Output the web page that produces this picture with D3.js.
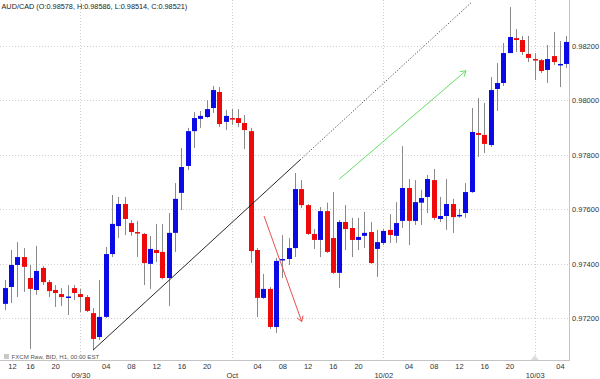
<!DOCTYPE html>
<html><head><meta charset="utf-8">
<script src="https://cdn.jsdelivr.net/npm/d3@7"></script>
<style>
body{margin:0;background:#fff}
svg{display:block}
text{font-family:"Liberation Sans",Arial,Helvetica,sans-serif}
</style>
</head><body>
<svg id="c" width="600" height="379"></svg>
<script>
// ---- DATA (hourly AUD/CAD candles) ----
const opens  = [0.97252,0.97314,0.97395,0.97424,0.97347,0.97303,0.97384,0.97332,0.97303,0.97288,
                0.97277,0.97310,0.97288,0.97277,0.97218,0.97130,0.97204,0.97435,0.97538,0.97619,
                0.97549,0.97516,0.97509,0.97399,0.97450,0.97443,0.97347,0.97513,0.97660,0.97759,
                0.97887,0.97932,0.97939,0.97972,0.98031,0.97921,0.97935,0.97935,0.97917,0.97887,
                0.97450,0.97274,0.97307,0.97167,0.97413,0.97417,0.97457,0.97674,0.97615,0.97509,
                0.97487,0.97593,0.97494,0.97366,0.97553,0.97531,0.97487,0.97502,0.97516,0.97454,
                0.97476,0.97524,0.97502,0.97557,0.97678,0.97557,0.97624,0.97645,0.97707,0.97564,
                0.97575,0.97619,0.97575,0.97586,0.97663,0.97880,0.97873,0.97836,0.98042,0.98064,
                0.98174,0.98229,0.98222,0.98171,0.98152,0.98148,0.98112,0.98163,0.98130,0.98134];
const highs  = [0.97340,0.97450,0.97479,0.97457,0.97395,0.97465,0.97391,0.97340,0.97321,0.97310,
                0.97321,0.97321,0.97307,0.97285,0.97237,0.97340,0.97461,0.97652,0.97645,0.97645,
                0.97560,0.97557,0.97513,0.97502,0.97546,0.97546,0.97586,0.97696,0.97825,0.97899,
                0.97957,0.97961,0.98001,0.98053,0.98049,0.97965,0.97968,0.97968,0.97946,0.97899,
                0.97457,0.97362,0.97314,0.97421,0.97505,0.97494,0.97733,0.97707,0.97619,0.97527,
                0.97608,0.97624,0.97663,0.97560,0.97615,0.97568,0.97568,0.97590,0.97553,0.97524,
                0.97527,0.97582,0.97626,0.97832,0.97711,0.97707,0.97671,0.97726,0.97748,0.97645,
                0.97711,0.97638,0.97601,0.97696,0.97972,0.98009,0.97990,0.98086,0.98137,0.98211,
                0.98343,0.98262,0.98237,0.98237,0.98174,0.98152,0.98204,0.98251,0.98218,0.98237];
const lows   = [0.97229,0.97255,0.97277,0.97296,0.97086,0.97285,0.97321,0.97277,0.97241,0.97244,
                0.97211,0.97266,0.97222,0.97222,0.97082,0.97119,0.97200,0.97424,0.97494,0.97505,
                0.97502,0.97424,0.97321,0.97307,0.97406,0.97343,0.97244,0.97443,0.97597,0.97744,
                0.97825,0.97899,0.97935,0.97954,0.97902,0.97891,0.97910,0.97902,0.97821,0.97402,
                0.97204,0.97270,0.97160,0.97145,0.97347,0.97395,0.97424,0.97604,0.97505,0.97454,
                0.97424,0.97439,0.97362,0.97310,0.97450,0.97424,0.97450,0.97457,0.97399,0.97351,
                0.97468,0.97476,0.97476,0.97531,0.97468,0.97542,0.97542,0.97586,0.97560,0.97553,
                0.97524,0.97513,0.97568,0.97568,0.97660,0.97792,0.97807,0.97829,0.97961,0.98053,
                0.98174,0.98178,0.98167,0.98141,0.98075,0.98101,0.98064,0.98130,0.98049,0.98119];
const closes = [0.97310,0.97395,0.97424,0.97388,0.97307,0.97373,0.97332,0.97299,0.97292,0.97277,
                0.97279,0.97292,0.97277,0.97226,0.97123,0.97204,0.97435,0.97546,0.97619,0.97564,
                0.97516,0.97513,0.97402,0.97454,0.97439,0.97347,0.97513,0.97638,0.97755,0.97887,
                0.97935,0.97943,0.97968,0.98038,0.97913,0.97943,0.97932,0.97917,0.97891,0.97446,
                0.97274,0.97307,0.97167,0.97410,0.97417,0.97457,0.97674,0.97615,0.97509,0.97487,
                0.97593,0.97443,0.97366,0.97553,0.97527,0.97487,0.97498,0.97513,0.97402,0.97479,
                0.97520,0.97505,0.97549,0.97678,0.97557,0.97626,0.97641,0.97711,0.97568,0.97575,
                0.97619,0.97571,0.97579,0.97663,0.97884,0.97873,0.97840,0.98038,0.98064,0.98174,
                0.98233,0.98222,0.98178,0.98156,0.98148,0.98108,0.98152,0.98141,0.98134,0.98215];

const yTicks = [0.972, 0.974, 0.976, 0.978, 0.980, 0.982];
const hourTickIdx    = [0,4,8,16,20,24,28,32,40,44,48,52,56,64,68,72,76,80,88];
const hourTickLabels = ["12","16","20","04","08","12","16","20","04","08","12","16","20","04","08","12","16","20","04"];
const dateTickIdx    = [12,36,60,84];
const dateTickLabels = ["09/30","Oct","10/02","10/03"];

const titleText  = "AUD/CAD (O:0.98578, H:0.98586, L:0.98514, C:0.98521)";
const sourceText = "FXCM Raw, BID, H1, 00:00 EST";

// annotations: [index, price]
const trendSolid  = [[14, 0.97082], [46.8, 0.97781]];
const trendDotted = [[46.8, 0.97781], [74, 0.98361]];
const redArrow    = [[41.1, 0.97575], [47.07, 0.97187]];
const greenArrow  = [[53.0, 0.97710], [73.1, 0.98109]];

// ---- CHART ----
const W = 600, H = 379;
const plotR = 569, plotB = 360;
const svg = d3.select("#c");

const x = d3.scaleLinear().domain([0, opens.length - 1]).range([4.7, 566.3]);
const y = d3.scaleLinear().domain([0.972, 0.982]).range([318, 46]);
const step = x(1) - x(0);

// grid
const grid = svg.append("g");
grid.selectAll("line.h").data(yTicks).enter().append("line")
  .attr("x1", 0).attr("x2", plotR)
  .attr("y1", d => Math.round(y(d)) + 0.5).attr("y2", d => Math.round(y(d)) + 0.5)
  .attr("stroke", "#cfcfcf").attr("stroke-dasharray", "1,2");
grid.selectAll("line.v").data(dateTickIdx).enter().append("line")
  .attr("y1", 0).attr("y2", plotB)
  .attr("x1", d => Math.round(x(d)) + 0.5).attr("x2", d => Math.round(x(d)) + 0.5)
  .attr("stroke", "#cfcfcf").attr("stroke-dasharray", "1,2");

// frame
svg.append("line").attr("x1", plotR + 0.5).attr("x2", plotR + 0.5).attr("y1", 0).attr("y2", plotB)
  .attr("stroke", "#c4c4c4");
svg.append("line").attr("x1", 0).attr("x2", plotR + 1).attr("y1", plotB + 0.5).attr("y2", plotB + 0.5)
  .attr("stroke", "#c4c4c4");

// candles
const data = opens.map((o, i) => ({i, o, h: highs[i], l: lows[i], c: closes[i]}));
const cg = svg.append("g");
cg.selectAll("line.wick").data(data).enter().append("line")
  .attr("x1", d => Math.round(x(d.i)) + 0.5).attr("x2", d => Math.round(x(d.i)) + 0.5)
  .attr("y1", d => y(d.h)).attr("y2", d => y(d.l))
  .attr("stroke", "#8a8a8a").attr("stroke-width", 1);
const bw = 5;
cg.selectAll("rect").data(data).enter().append("rect")
  .attr("x", d => Math.round(x(d.i)) + 0.5 - bw / 2)
  .attr("width", bw)
  .attr("y", d => y(Math.max(d.o, d.c)))
  .attr("height", d => Math.max(1.5, Math.abs(y(d.o) - y(d.c))))
  .attr("fill", d => d.c >= d.o ? "#0a0ae6" : "#ee0a0a");

// trend line
const ln = d3.line().x(d => x(d[0])).y(d => y(d[1]));
svg.append("path").attr("d", ln(trendSolid)).attr("fill", "none")
  .attr("stroke", "#111").attr("stroke-width", 0.9);
svg.append("path").attr("d", ln(trendDotted)).attr("fill", "none")
  .attr("stroke", "#333").attr("stroke-width", 0.9).attr("stroke-dasharray", "1.2,1.8");

function arrow(pts, color, head) {
  svg.append("path").attr("d", ln(pts)).attr("fill", "none")
    .attr("stroke", color).attr("stroke-width", 1);
  const x1 = x(pts[0][0]), y1 = y(pts[0][1]), x2 = x(pts[1][0]), y2 = y(pts[1][1]);
  const a = Math.atan2(y2 - y1, x2 - x1);
  const p = [a + Math.PI * 0.82, a - Math.PI * 0.82].map(t => [x2 + head * Math.cos(t), y2 + head * Math.sin(t)]);
  svg.append("path").attr("d", `M${p[0][0]},${p[0][1]}L${x2},${y2}L${p[1][0]},${p[1][1]}`)
    .attr("fill", "none").attr("stroke", color).attr("stroke-width", 1);
}
arrow(redArrow, "#e65050", 6);
arrow(greenArrow, "#66dd66", 6);

// y axis (right)
const ya = svg.append("g").attr("transform", `translate(${plotR},0)`)
  .call(d3.axisRight(y).tickValues(yTicks).tickSize(0).tickPadding(3).tickFormat(d3.format(".5f")));
ya.select(".domain").remove();
ya.selectAll("text").attr("font-size", 7.5).attr("fill", "#333")
  .attr("font-family", "'Liberation Sans',Arial,sans-serif");

// x axis hour labels
const xa = svg.append("g").attr("transform", `translate(0,${plotB})`)
  .call(d3.axisBottom(x).tickValues(hourTickIdx).tickSize(0).tickPadding(3.5)
    .tickFormat((d, i) => hourTickLabels[i]));
xa.select(".domain").remove();
xa.selectAll("text").attr("font-size", 7.5).attr("fill", "#333")
  .attr("font-family", "'Liberation Sans',Arial,sans-serif");
xa.selectAll("text").filter(d => x(d) < 8).attr("dx", 7.3);

// x axis date labels
const xd = svg.append("g").attr("transform", `translate(0,${plotB})`)
  .call(d3.axisBottom(x).tickValues(dateTickIdx).tickSize(0).tickPadding(12.5)
    .tickFormat((d, i) => dateTickLabels[i]));
xd.select(".domain").remove();
xd.selectAll("text").attr("font-size", 7.5).attr("fill", "#333")
  .attr("font-family", "'Liberation Sans',Arial,sans-serif");

// small marker triangle at last day boundary
const tx = x(dateTickIdx[dateTickIdx.length - 1]);
svg.append("path").attr("d", `M${tx - 4},${plotB}L${tx},${plotB - 5}L${tx + 4},${plotB}Z`)
  .attr("fill", "#dcdcdc");

// title
svg.append("text").attr("x", 1.5).attr("y", 9).attr("font-size", 7.3).attr("fill", "#222").text(titleText);

// source note
svg.append("rect").attr("x", 4).attr("y", 354).attr("width", 5).attr("height", 5).attr("fill", "#c8c8c8");
svg.append("text").attr("x", 11.5).attr("y", 359.2).attr("font-size", 6.1).attr("fill", "#555").text(sourceText);
</script>
</body></html>
